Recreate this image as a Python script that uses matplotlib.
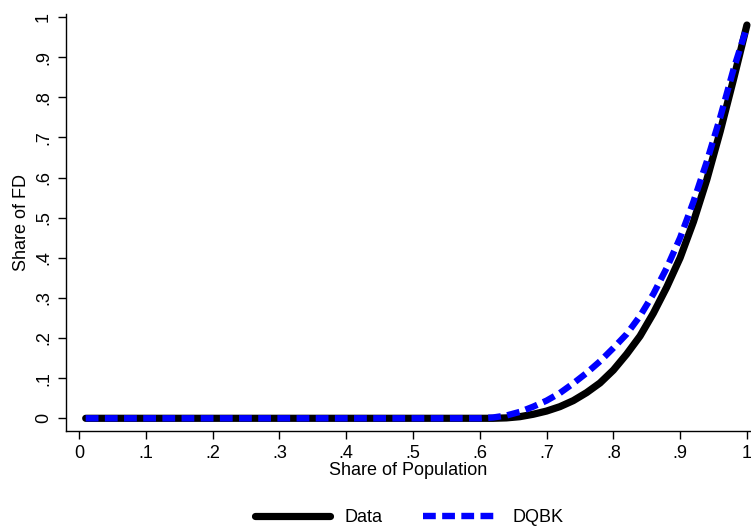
import matplotlib
matplotlib.use("Agg")
import matplotlib.pyplot as plt

plt.rcParams['font.family'] = ['Liberation Sans', 'DejaVu Sans']

# Data (Lorenz-type curve)
data_x = [0.01, 0.60, 0.62, 0.64, 0.66, 0.68, 0.70, 0.72, 0.74, 0.76, 0.78,
          0.80, 0.82, 0.84, 0.86, 0.88, 0.90, 0.92, 0.94, 0.96, 0.98, 1.0]
data_y = [0.0, 0.0, 0.0, 0.001, 0.004, 0.010, 0.018, 0.029, 0.044, 0.064, 0.088,
          0.12, 0.16, 0.205, 0.262, 0.327, 0.40, 0.49, 0.595, 0.715, 0.845, 0.98]

dqbk_x = [0.01, 0.60, 0.62, 0.64, 0.66, 0.68, 0.70, 0.72, 0.74, 0.76, 0.78,
          0.80, 0.82, 0.84, 0.86, 0.88, 0.90, 0.92, 0.94, 0.96, 0.98, 1.0]
dqbk_y = [0.0, 0.0, 0.002, 0.007, 0.016, 0.029, 0.044, 0.063, 0.087, 0.113, 0.142,
          0.175, 0.21, 0.255, 0.31, 0.375, 0.45, 0.54, 0.64, 0.75, 0.87, 0.975]

xticks = [0, 0.1, 0.2, 0.3, 0.4, 0.5, 0.6, 0.7, 0.8, 0.9, 1.0]
xticklabels = ["0", ".1", ".2", ".3", ".4", ".5", ".6", ".7", ".8", ".9", "1"]
yticks = [0, 0.1, 0.2, 0.3, 0.4, 0.5, 0.6, 0.7, 0.8, 0.9, 1.0]
yticklabels = ["0", ".1", ".2", ".3", ".4", ".5", ".6", ".7", ".8", ".9", "1"]

fig = plt.figure(figsize=(7.51, 5.29), dpi=100)
ax = fig.add_axes([0.0879, 0.185, 0.912, 0.7885])

ax.plot(data_x, data_y, color="black", lw=5.2, solid_capstyle="round",
        solid_joinstyle="round", label="Data", zorder=2)
ax.plot(dqbk_x, dqbk_y, color="#0000ff", lw=4.6, dashes=(2.0, 1.0),
        dash_capstyle="butt", dash_joinstyle="round", label="DQBK", zorder=3)

ax.set_xlim(-0.0195, 1.006)
ax.set_ylim(-0.032, 1.0075)
ax.set_xticks(xticks)
ax.set_xticklabels(xticklabels)
ax.set_yticks(yticks)
ax.set_yticklabels(yticklabels, rotation=90, va="center")

for s in ["top", "right"]:
    ax.spines[s].set_visible(False)
for s in ["left", "bottom"]:
    ax.spines[s].set_linewidth(1.0)
ax.tick_params(direction="out", length=6, width=1.0, labelsize=13, pad=4)

ax.set_xlabel("Share of Population", fontsize=13, labelpad=0)
ax.set_ylabel("Share of FD", fontsize=13, labelpad=4)

leg = fig.legend(loc="lower center", ncol=2, frameon=False, fontsize=13,
                 bbox_to_anchor=(0.545, -0.025), handlelength=4.2,
                 columnspacing=2.2, handletextpad=0.8)

fig.savefig("out.png", dpi=100)
